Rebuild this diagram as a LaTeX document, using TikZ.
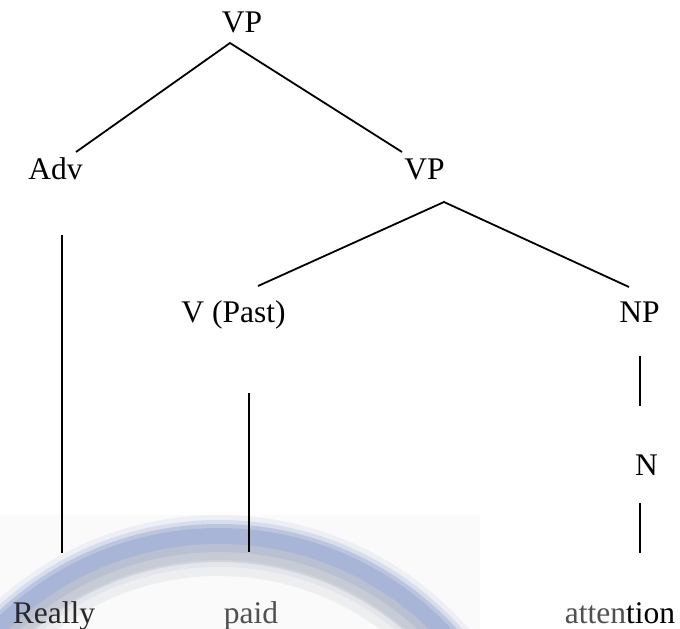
\documentclass[tikz,border=0pt]{standalone}
\usepackage{fontspec}
\setmainfont{Liberation Serif}
\definecolor{ringblue}{RGB}{168,181,214}
\definecolor{ringgray}{RGB}{188,190,198}
\definecolor{txtdark}{RGB}{40,40,40}
\definecolor{txtgray}{RGB}{80,80,80}
\definecolor{bgpanel}{RGB}{250,250,250}
\tikzset{
  lbl/.style={anchor=base, inner sep=0pt, font=\fontsize{31.5}{37}\selectfont},
  branch/.style={draw=black, line width=1.8pt},
}
\begin{document}
\begin{tikzpicture}[x=1pt, y=-1pt]
\useasboundingbox (0,0) rectangle (680,629);
% background watermark
\begin{scope}
\clip (0,0) rectangle (680,629);
\fill[bgpanel] (0,515) rectangle (480,629);
\draw[ringgray, line width=40pt, opacity=0.2] (219,846) circle [radius=290];
\draw[ringblue, line width=52pt, opacity=0.15] (219,846) circle [radius=305];
\draw[ringblue, line width=40pt, opacity=0.3] (219,846) circle [radius=306];
\draw[ringblue, line width=28pt, opacity=0.6] (219,846) circle [radius=308];
\draw[ringblue, line width=16pt] (219,846) circle [radius=310];
\draw[ringgray, line width=18pt, opacity=0.45] (219,846) circle [radius=293];
\end{scope}
% labels
\node[lbl] (vp1) at (242,32) {VP};
\node[lbl] (adv) at (55.5,179) {Adv};
\node[lbl] (vp2) at (424.5,179) {VP};
\node[lbl] (v) at (233.5,322) {V (Past)};
\node[lbl] (np) at (639.5,322) {NP};
\node[lbl] (n) at (646.5,475) {N};
\node[lbl, text=txtdark] (really) at (54,623) {Really};
\node[lbl, text=txtgray] (paid) at (251,623) {paid};
\node[lbl] (attention) at (620,623) {\textcolor{txtgray}{atten}\textcolor{black}{tion}};
% connector end points
\coordinate (vp1b) at (230,43);
\coordinate (advt) at (76,152);
\coordinate (vp2t) at (402,152);
\coordinate (vp2b) at (444,202);
\coordinate (vt) at (258,286);
\coordinate (npt) at (629,287);
\coordinate (advb) at (62,235);
\coordinate (reallyt) at (62,553);
\coordinate (vb) at (249,393);
\coordinate (paidt) at (249,552);
\coordinate (npb) at (640,356);
\coordinate (nt) at (640,406);
\coordinate (nb) at (640,503);
\coordinate (attt) at (640,553);
% branches
\draw[branch] (advt) -- (vp1b) -- (vp2t);
\draw[branch] (vt) -- (vp2b) -- (npt);
\draw[branch] (advb) -- (reallyt);
\draw[branch] (vb) -- (paidt);
\draw[branch] (npb) -- (nt);
\draw[branch] (nb) -- (attt);
\end{tikzpicture}
\end{document}
